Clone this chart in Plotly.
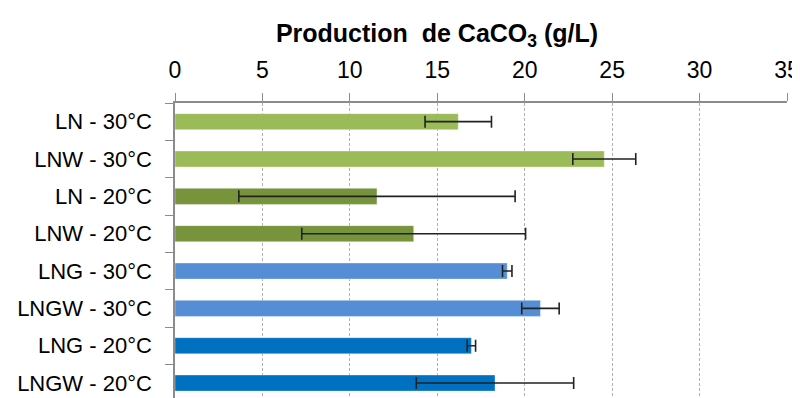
import plotly.graph_objects as go

categories = ["LN - 30°C", "LNW - 30°C", "LN - 20°C", "LNW - 20°C",
              "LNG - 30°C", "LNGW - 30°C", "LNG - 20°C", "LNGW - 20°C"]
values = [16.2, 24.55, 11.55, 13.65, 19.0, 20.9, 16.95, 18.3]
errors = [1.9, 1.8, 7.9, 6.4, 0.27, 1.07, 0.24, 4.5]
bar_colors = ["#9BBB59", "#9BBB59", "#77933C", "#77933C",
              "#558ED5", "#558ED5", "#0070C0", "#0070C0"]
x_ticks = [0, 5, 10, 15, 20, 25, 30, 35]

FONT = "Liberation Sans, Arial, sans-serif"

fig = go.Figure()
fig.add_trace(go.Bar(
    y=categories,
    x=values,
    orientation="h",
    width=0.43,
    marker=dict(color=bar_colors, line=dict(color="rgba(255,255,255,0.35)", width=1)),
    error_x=dict(type="data", array=errors, visible=True, color="#222222",
                 thickness=1.6, width=6),
))

# page has an 8px body margin; figure is sized to fit the 800x398 window
fig.update_layout(
    width=792, height=390,
    margin=dict(l=167, r=13, t=95, b=0),
    paper_bgcolor="white", plot_bgcolor="white",
    showlegend=False,
    font=dict(family=FONT, size=22, color="#000000"),
    title=dict(text="<b>Production&nbsp; de CaCO<sub>3</sub> (g/L)</b>",
               x=0.5417, xanchor="center", y=0.936, yanchor="middle",
               font=dict(family=FONT, size=25, color="#000000")),
    xaxis=dict(side="top", range=[0, 35], tickvals=x_ticks, automargin=False,
               showline=True, linecolor="#8C8C8C", linewidth=1.5,
               ticks="outside", ticklen=8, tickcolor="#8C8C8C", tickwidth=1,
               showgrid=True, gridcolor="#B0B0B0", griddash="3px,2px", gridwidth=1,
               zeroline=False, ticklabelstandoff=6,
               tickfont=dict(family=FONT, size=23, color="#000000")),
    yaxis=dict(type="category", categoryorder="array", categoryarray=categories,
               range=[7.4, -0.5], automargin=False,
               showline=True, linecolor="#8C8C8C", linewidth=1.5,
               ticks="outside", ticklen=8, tickcolor="#8C8C8C", tickson="boundaries",
               showgrid=False, zeroline=False, ticklabelstandoff=17,
               tickfont=dict(family=FONT, size=22, color="#000000")),
)

fig.write_html("out.html")
